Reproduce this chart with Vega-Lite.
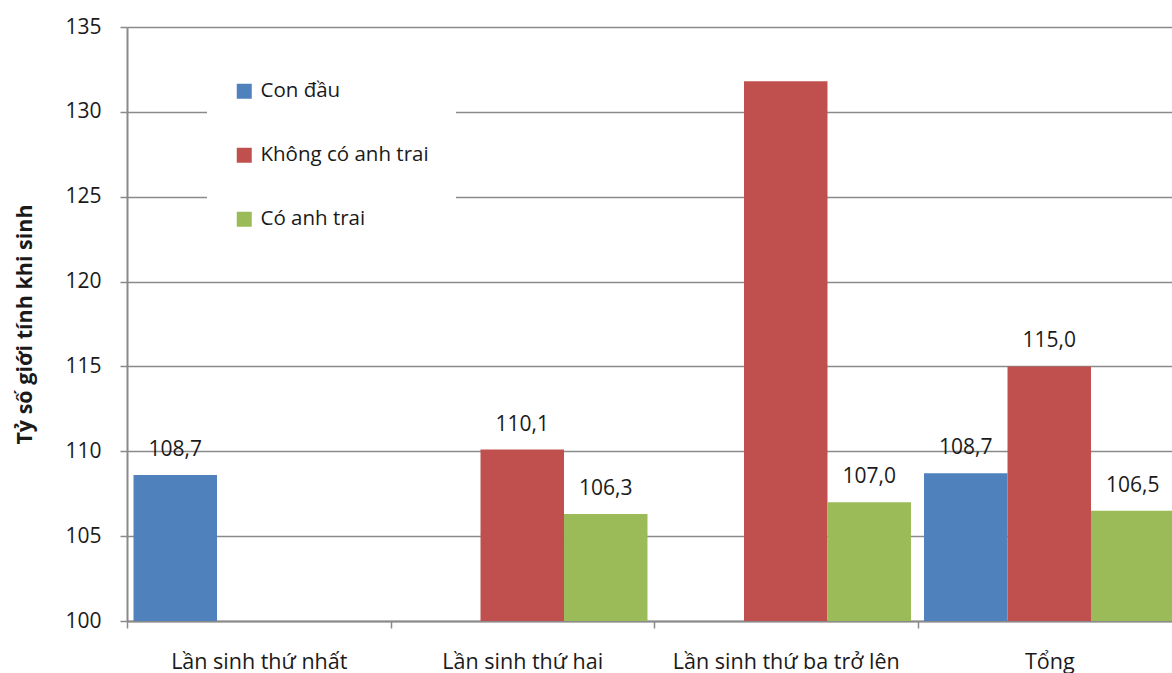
{
  "$schema": "https://vega.github.io/schema/vega-lite/v6.json",
  "width": 1045,
  "height": 594,
  "autosize": {"type": "none"},
  "padding": {"left": 127, "top": 27, "right": 0, "bottom": 52},
  "background": "white",
  "config": {"font": "Open Sans", "view": {"stroke": null}},
  "data": {
    "values": [
      {"group": "Lần sinh thứ nhất", "series": "Con đầu", "value": 108.6, "label": "108,7"},
      {"group": "Lần sinh thứ hai", "series": "Không có anh trai", "value": 110.1, "label": "110,1"},
      {"group": "Lần sinh thứ hai", "series": "Có anh trai", "value": 106.3, "label": "106,3"},
      {"group": "Lần sinh thứ ba trở lên", "series": "Không có anh trai", "value": 131.8, "label": ""},
      {"group": "Lần sinh thứ ba trở lên", "series": "Có anh trai", "value": 107.0, "label": "107,0"},
      {"group": "Tổng", "series": "Con đầu", "value": 108.7, "label": "108,7"},
      {"group": "Tổng", "series": "Không có anh trai", "value": 115.0, "label": "115,0"},
      {"group": "Tổng", "series": "Có anh trai", "value": 106.5, "label": "106,5"}
    ]
  },
  "encoding": {
    "x": {
      "field": "group",
      "type": "nominal",
      "sort": ["Lần sinh thứ nhất", "Lần sinh thứ hai", "Lần sinh thứ ba trở lên", "Tổng"],
      "scale": {"range": [0, 1054], "paddingInner": 0, "paddingOuter": 0},
      "axis": {
        "title": null,
        "labelAngle": 0,
        "tickBand": "extent",
        "tickSize": 7,
        "tickWidth": 1.5,
        "tickColor": "#8a8a8a",
        "domainColor": "#8a8a8a",
        "domainWidth": 2,
        "grid": false,
        "labelFontSize": 21.5,
        "labelColor": "#1a1a1a",
        "labelBaseline": "alphabetic",
        "labelPadding": 40,
        "labelLimit": 400,
        "labelOverlap": false,
        "labelFlush": false
      }
    },
    "xOffset": {
      "field": "series",
      "type": "nominal",
      "sort": ["Con đầu", "Không có anh trai", "Có anh trai"],
      "scale": {"paddingInner": 0, "paddingOuter": 0.078}
    },
    "y": {
      "field": "value",
      "type": "quantitative",
      "scale": {"domain": [100, 135], "zero": false, "nice": false},
      "axis": {
        "values": [100, 105, 110, 115, 120, 125, 130, 135],
        "grid": true,
        "gridColor": "#8a8a8a",
        "gridWidth": 1.5,
        "domainColor": "#8a8a8a",
        "domainWidth": 2,
        "tickColor": "#8a8a8a",
        "tickSize": 7,
        "tickWidth": 1.5,
        "labelFontSize": 21,
        "labelColor": "#1a1a1a",
        "labelPadding": 19,
        "title": "Tỷ số giới tính khi sinh",
        "titleFontSize": 21.5,
        "titleFontWeight": "bold",
        "titleColor": "#1a1a1a",
        "titleX": -102,
        "titleY": 297,
        "titleAngle": -90,
        "titleAlign": "center",
        "titleBaseline": "middle"
      }
    }
  },
  "layer": [
    {
      "mark": {"type": "bar", "clip": true},
      "encoding": {
        "y2": {"datum": 100},
        "color": {
          "field": "series",
          "type": "nominal",
          "sort": ["Con đầu", "Không có anh trai", "Có anh trai"],
          "scale": {
            "domain": ["Con đầu", "Không có anh trai", "Có anh trai"],
            "range": ["#4F81BD", "#C0504D", "#9BBB59"]
          },
          "legend": {
            "title": null,
            "orient": "none",
            "legendX": 80,
            "legendY": 27,
            "fillColor": "white",
            "padding": 27,
            "symbolType": "square",
            "symbolSize": 225,
            "symbolStrokeWidth": 0,
            "labelFontSize": 20.5,
            "labelColor": "#1a1a1a",
            "labelOffset": 6,
            "labelLimit": 400,
            "rowPadding": 43
          }
        }
      }
    },
    {
      "mark": {"type": "text", "baseline": "alphabetic", "dy": -19, "fontSize": 21, "color": "#1a1a1a"},
      "encoding": {"text": {"field": "label"}}
    }
  ]
}
